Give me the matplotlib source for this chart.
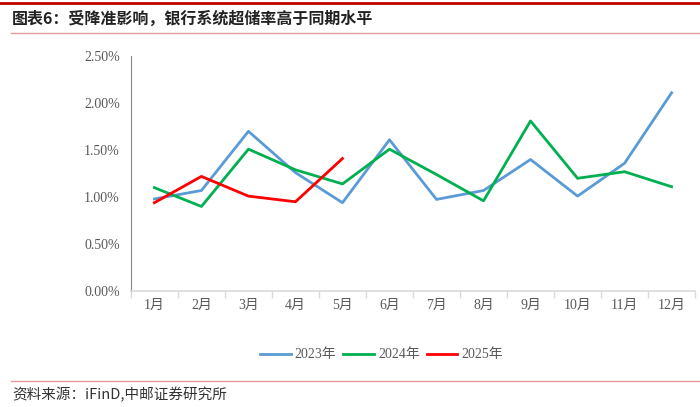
import matplotlib
matplotlib.use('Agg')
import matplotlib.pyplot as plt
from matplotlib.lines import Line2D
from matplotlib.ticker import FuncFormatter, MultipleLocator

plt.rcParams['font.family'] = ['Liberation Serif', 'Noto Sans CJK SC']

months = ['1月', '2月', '3月', '4月', '5月', '6月', '7月', '8月', '9月', '10月', '11月', '12月']
y2023 = [0.98, 1.07, 1.70, 1.26, 0.94, 1.61, 0.975, 1.07, 1.40, 1.01, 1.36, 2.11]
y2024 = [1.10, 0.90, 1.51, 1.29, 1.14, 1.51, 1.24, 0.96, 1.81, 1.20, 1.27, 1.11]
y2025 = [0.94, 1.22, 1.01, 0.95, 1.41]
series = [('2023年', y2023, '#5B9BD5'), ('2024年', y2024, '#00B050'), ('2025年', y2025, '#FF0000')]

fig = plt.figure(figsize=(7, 4.07), dpi=100)
ax = fig.add_axes([0.187, 0.285, 0.806, 0.577])

for name, vals, col in series:
    ax.plot(range(len(vals)), vals, color=col, lw=2, label=name)

ax.set_xlim(-0.5, 11.5)
ax.set_ylim(0, 2.5)
ax.yaxis.set_major_locator(MultipleLocator(0.5))
ax.yaxis.set_major_formatter(FuncFormatter(lambda v, p: '%.2f%%' % v))
ax.set_xticks(range(12))
ax.set_xticklabels(months)
ax.set_xticks([i - 0.5 for i in range(13)], minor=True)
ax.tick_params(axis='x', which='major', length=0, pad=6, labelsize=10, labelcolor='#595959')
ax.tick_params(axis='x', which='minor', length=5, color='#D9D9D9', width=1)
ax.tick_params(axis='y', length=0, pad=8, labelsize=10, labelcolor='#595959')
for s in ['top', 'right']:
    ax.spines[s].set_visible(False)
ax.spines['left'].set_color('#868686')
ax.spines['bottom'].set_color('#D9D9D9')
ax.spines['bottom'].set_linewidth(1.2)

handles = [Line2D([], [], color=c, lw=2) for _, _, c in series]
fig.legend(handles, [n for n, _, _ in series], loc='center', bbox_to_anchor=(0.545, 0.128),
           ncol=3, frameon=False, fontsize=10, handlelength=2.2, handletextpad=0.3,
           columnspacing=0.5, labelcolor='#595959')

# header / footer decoration
fig.add_artist(Line2D([0.0, 1.0], [0.992, 0.992], color='#C00000', lw=2))
fig.add_artist(Line2D([0.015, 1.0], [0.918, 0.918], color='#E59A9A', lw=1))
fig.add_artist(Line2D([0.015, 1.0], [0.064, 0.064], color='#E59A9A', lw=1))
fig.text(0.017, 0.955, '图表6：受降准影响，银行系统超储率高于同期水平', fontsize=11.5,
         family=['Noto Sans CJK SC', 'DejaVu Sans'], color='#222222', va='center', weight='bold')
fig.text(0.017, 0.030, '资料来源：iFinD,中邮证券研究所', fontsize=10.5,
         family=['Noto Sans CJK SC', 'DejaVu Sans'], color='#333333', va='center')

fig.savefig('out.png', dpi=100)
